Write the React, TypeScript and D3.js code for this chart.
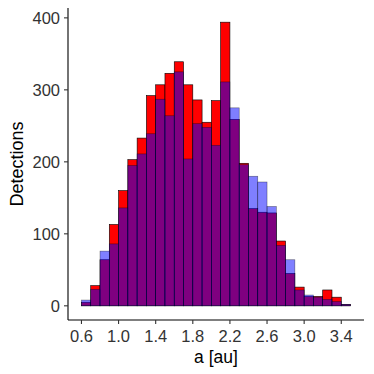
import React from "react";
import * as d3 from "d3";

// bin left edges (au), width 0.1
const binStarts = [
  0.6, 0.7, 0.8, 0.9, 1.0, 1.1, 1.2, 1.3, 1.4, 1.5, 1.6, 1.7, 1.8, 1.9, 2.0,
  2.1, 2.2, 2.3, 2.4, 2.5, 2.6, 2.7, 2.8, 2.9, 3.0, 3.1, 3.2, 3.3, 3.4,
];
const redCounts = [
  5, 28, 64, 113, 160, 203, 233, 292, 307, 323, 339, 307, 286, 255, 285,
  394, 259, 198, 135, 130, 129, 90, 45, 26, 13, 13, 22, 12, 2,
];
const blueCounts = [
  8, 23, 76, 86, 136, 195, 211, 239, 287, 264, 325, 204, 253, 248, 223,
  311, 275, 196, 180, 172, 138, 84, 64, 22, 15, 12, 9, 6, 2,
];
const xTicks = [0.6, 1.0, 1.4, 1.8, 2.2, 2.6, 3.0, 3.4];
const yTicks = [0, 100, 200, 300, 400];
const BIN = 0.1;

const W = 374;
const H = 374;
const MARGIN = { top: 8, right: 10, bottom: 54, left: 68 };

const App = () => {
  const xMin = binStarts[0];
  const xMax = binStarts[binStarts.length - 1] + BIN;
  const xPad = (xMax - xMin) * 0.05;
  const yMax = d3.max([...redCounts, ...blueCounts]) as number;

  const x = d3
    .scaleLinear()
    .domain([xMin - xPad, xMax + xPad])
    .range([MARGIN.left, W - MARGIN.right]);
  const y = d3
    .scaleLinear()
    .domain([-yMax * 0.05, yMax * 1.05])
    .range([H - MARGIN.bottom, MARGIN.top]);

  const font = "'Liberation Sans', Arial, sans-serif";

  const bars = (counts: number[], fill: string, opacity: number) =>
    binStarts.map((b, i) => (
      <rect
        key={i}
        x={x(b)}
        y={y(counts[i])}
        width={x(b + BIN) - x(b)}
        height={y(0) - y(counts[i])}
        fill={fill}
        fillOpacity={opacity}
        stroke="black"
        strokeOpacity={opacity}
        strokeWidth={0.6}
      />
    ));

  return (
    <svg
      width={W}
      height={H}
      style={{ position: "absolute", left: 0, top: 0, background: "white" }}
    >
      <g>{bars(redCounts, "#FF0000", 1)}</g>
      <g>{bars(blueCounts, "#0000FF", 0.5)}</g>

      {/* axes */}
      <line
        x1={MARGIN.left}
        x2={MARGIN.left}
        y1={MARGIN.top}
        y2={H - MARGIN.bottom}
        stroke="black"
        strokeWidth={1.1}
      />
      <line
        x1={MARGIN.left}
        x2={W - MARGIN.right}
        y1={H - MARGIN.bottom}
        y2={H - MARGIN.bottom}
        stroke="black"
        strokeWidth={1.1}
      />
      {yTicks.map((t) => (
        <g key={t} transform={`translate(${MARGIN.left},${y(t)})`}>
          <line x1={-4} x2={0} stroke="#333" strokeWidth={1.1} />
          <text
            x={-8}
            dy="0.36em"
            textAnchor="end"
            fontSize={16.5}
            fontFamily={font}
            fill="#333"
          >
            {t}
          </text>
        </g>
      ))}
      {xTicks.map((t) => (
        <g key={t} transform={`translate(${x(t)},${H - MARGIN.bottom})`}>
          <line y1={0} y2={4} stroke="#333" strokeWidth={1.1} />
          <text
            y={22}
            textAnchor="middle"
            fontSize={16.5}
            fontFamily={font}
            fill="#333"
          >
            {t.toFixed(1)}
          </text>
        </g>
      ))}
      <text
        x={(MARGIN.left + W - MARGIN.right) / 2}
        y={363}
        textAnchor="middle"
        fontSize={17.5}
        fontFamily={font}
        fill="black"
      >
        a [au]
      </text>
      <text
        transform={`translate(23,${(MARGIN.top + H - MARGIN.bottom) / 2}) rotate(-90)`}
        textAnchor="middle"
        fontSize={18}
        fontFamily={font}
        fill="black"
      >
        Detections
      </text>
    </svg>
  );
};

export default App;
